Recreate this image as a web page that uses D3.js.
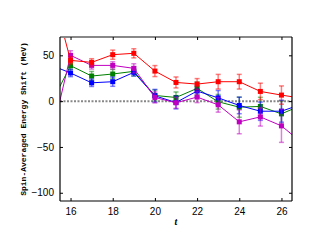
<!DOCTYPE html>
<html>
<head>
<meta charset="utf-8">
<script src="https://cdn.jsdelivr.net/npm/d3@7"></script>
<style>
  body { margin: 0; background: #fff; }
  svg { display: block; }
</style>
</head>
<body>
<div id="container"></div>
<script>
// Data
const tValues = [15, 16, 17, 18, 19, 20, 21, 22, 23, 24, 25, 26, 27];

const redY   = [132, 44.5, 42.3, 50.7, 52.2, 32.8, 20.4, 18.6, 21.2, 21.2, 10.6, 6.6, 3];
const redErr = [0, 4, 4, 5, 5, 6, 6, 6, 8, 8, 9, 10, 0];

const blueY   = [40, 30.7, 20, 21.2, 31.4, 5.8, -1.5, 11, 3.6, -4.7, -11, -11, -3];
const blueErr = [0, 4, 4, 5, 4, 7, 7, 6, 8, 9, 10, 12, 0];

const greenY   = [-6, 38.7, 27.4, 29.6, 32.5, 6.2, 4, 13.9, -0.7, -6.6, -5.8, -13.9, -4];
const greenErr = [0, 4, 5, 5, 5, 6, 6, 7, 8, 11, 10, 14, 0];

const magentaY   = [-48, 50, 39, 39, 35.8, 4, -1.8, 4.4, -4, -22.6, -17.2, -27, -46];
const magentaErr = [0, 5, 4, 4, 5, 6, 6, 6, 8, 13, 10, 18, 0];

const xTicks = [16, 18, 20, 22, 24, 26];
const yTicks = [50, 0, -50, -100];

const series = [
  { name: "green",   color: "#008000", y: greenY,   err: greenErr },
  { name: "blue",    color: "#0000ff", y: blueY,    err: blueErr },
  { name: "magenta", color: "#c000c0", y: magentaY, err: magentaErr },
  { name: "red",     color: "#ff0000", y: redY,     err: redErr },
];

const W = 323, H = 249;
const margin = { top: 37, right: 31, bottom: 48, left: 60 };
const width = W - margin.left - margin.right;
const height = H - margin.top - margin.bottom;

const svg = d3.select("#container").append("svg")
    .attr("width", W)
    .attr("height", H);

const g = svg.append("g")
    .attr("transform", "translate(" + margin.left + "," + margin.top + ")");

const x = d3.scaleLinear().domain([15.5, 26.5]).range([0, width]);
const y = d3.scaleLinear().domain([-109, 70]).range([height, 0]);

svg.append("defs").append("clipPath").attr("id", "plotClip")
  .append("rect").attr("width", width).attr("height", height);

// Zero line
g.append("line")
    .attr("x1", 0).attr("x2", width)
    .attr("y1", y(0)).attr("y2", y(0))
    .attr("stroke", "#888")
    .attr("stroke-width", 2)
    .attr("stroke-dasharray", "2,1.5");

const plot = g.append("g").attr("clip-path", "url(#plotClip)");

series.forEach(s => {
  const pts = tValues.map((t, i) => ({ t: t, v: s.y[i], e: s.err[i] }));
  const inner = pts.filter(d => d.t >= 16 && d.t <= 26);

  // error bars
  const eb = plot.append("g")
      .attr("stroke", s.color)
      .attr("stroke-opacity", 0.5)
      .attr("stroke-width", 1.5);
  inner.forEach(d => {
    eb.append("line")
      .attr("x1", x(d.t)).attr("x2", x(d.t))
      .attr("y1", y(d.v - d.e)).attr("y2", y(d.v + d.e));
    [d.v - d.e, d.v + d.e].forEach(v => {
      eb.append("line")
        .attr("x1", x(d.t) - 2.5).attr("x2", x(d.t) + 2.5)
        .attr("y1", y(v)).attr("y2", y(v));
    });
  });

  plot.append("path")
      .datum(pts)
      .attr("fill", "none")
      .attr("stroke", s.color)
      .attr("stroke-width", 1)
      .attr("d", d3.line().x(d => x(d.t)).y(d => y(d.v)));

  plot.selectAll(null)
      .data(inner)
      .enter().append("rect")
      .attr("x", d => x(d.t) - 2.5)
      .attr("y", d => y(d.v) - 2.5)
      .attr("width", 5)
      .attr("height", 5)
      .attr("fill", s.color);
});

// Frame
g.append("line").attr("x1", 0).attr("x2", width).attr("y1", 0).attr("y2", 0)
    .attr("stroke", "#888").attr("stroke-width", 2);
g.append("line").attr("x1", 0).attr("x2", width).attr("y1", height).attr("y2", height)
    .attr("stroke", "#000").attr("stroke-width", 1.2);
g.append("line").attr("x1", 0).attr("x2", 0).attr("y1", 0).attr("y2", height)
    .attr("stroke", "#000").attr("stroke-width", 1.2);
g.append("line").attr("x1", width).attr("x2", width).attr("y1", 0).attr("y2", height)
    .attr("stroke", "#000").attr("stroke-width", 1.2);

// Axes (ticks pointing inward)
const tickFont = "'Liberation Sans', Arial, sans-serif";

const xAxis = g.append("g")
    .attr("transform", "translate(0," + height + ")")
    .call(d3.axisBottom(x).tickValues(xTicks).tickSizeInner(-3).tickSizeOuter(0).tickPadding(7));
const xTop = g.append("g")
    .call(d3.axisTop(x).tickValues(xTicks).tickSizeInner(-3).tickSizeOuter(0).tickFormat(""));
const yAxis = g.append("g")
    .call(d3.axisLeft(y).tickValues(yTicks).tickSizeInner(-3).tickSizeOuter(0).tickPadding(6)
      .tickFormat(d => d < 0 ? "\u2212" + Math.abs(d) : d));
const yRight = g.append("g")
    .attr("transform", "translate(" + width + ",0)")
    .call(d3.axisRight(y).tickValues(yTicks).tickSizeInner(-3).tickSizeOuter(0).tickFormat(""));

[xAxis, xTop, yAxis, yRight].forEach(a => {
  a.select(".domain").remove();
  a.selectAll(".tick line").attr("stroke", "#000").attr("stroke-width", 1);
  a.selectAll("text")
    .attr("fill", "#000")
    .style("font-family", tickFont)
    .style("font-size", "10px");
});

// Axis labels
g.append("text")
    .attr("x", width / 2)
    .attr("y", height + 24)
    .attr("text-anchor", "middle")
    .style("font-family", "'Liberation Serif', serif")
    .style("font-style", "italic")
    .style("font-weight", "bold")
    .style("font-size", "10px")
    .text("t");

g.append("text")
    .attr("transform", "rotate(-90)")
    .attr("x", -height / 2)
    .attr("y", -margin.left + 26)
    .attr("text-anchor", "middle")
    .style("font-family", "'Liberation Mono', 'DejaVu Sans Mono', monospace")
    .style("font-weight", "bold")
    .style("font-size", "8px")
    .text("Spin-Averaged Energy Shift (MeV)");
</script>
</body>
</html>
